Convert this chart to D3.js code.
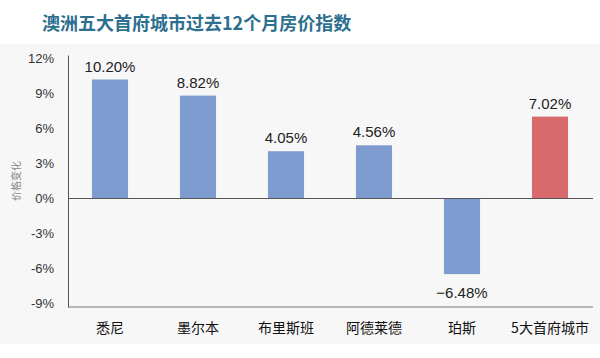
<!DOCTYPE html>
<html>
<head>
<meta charset="utf-8">
<script src="https://cdn.jsdelivr.net/npm/d3@7"></script>
<style>
  body { margin: 0; background: #fff; }
  text { font-family: "Noto Sans CJK SC", "Liberation Sans", Arial, sans-serif; }
</style>
</head>
<body>
<div id="chart"></div>
<script>
// datos del gráfico
const cities = ["悉尼", "墨尔本", "布里斯班", "阿德莱德", "珀斯", "5大首府城市"];
const changes = [10.20, 8.82, 4.05, 4.56, -6.48, 7.02];
const yTicks = [-9, -6, -3, 0, 3, 6, 9, 12];
const titleText = "澳洲五大首府城市过去12个月房价指数";
const yLabel = "价格变化";

const width = 600, height = 358;
const marginLeft = 68, marginRight = 7, marginTop = 55, marginBottom = 51;
const latin = "'Liberation Sans', Arial, sans-serif";

const svg = d3.select("#chart").append("svg")
    .attr("width", width)
    .attr("height", height)
    .attr("viewBox", [0, 0, width, height]);

// fondo gris claro
svg.append("rect")
    .attr("x", 0).attr("y", 44)
    .attr("width", width).attr("height", 300)
    .attr("fill", "#f7f7f8");

const x = d3.scaleBand()
    .domain(cities)
    .range([marginLeft - 2, width - marginRight + 1])
    .paddingInner(0.59)
    .paddingOuter(0.295);

const y = d3.scaleLinear()
    .domain([-9.3, 12.3])
    .range([height - marginBottom, marginTop]);

// título
svg.append("text")
    .attr("x", 42)
    .attr("y", 30)
    .attr("fill", "#2d6f8f")
    .attr("font-size", 18)
    .attr("font-weight", "bold")
    .text(titleText);

// barras
svg.append("g")
    .selectAll("rect")
    .data(changes)
    .join("rect")
    .attr("x", (d, i) => x(cities[i]))
    .attr("y", d => y(Math.max(0, d)))
    .attr("width", x.bandwidth())
    .attr("height", d => Math.abs(y(d) - y(0)))
    .attr("fill", (d, i) => i === cities.length - 1 ? "#d8696d" : "#7e9bd0");

// etiquetas de valor
svg.append("g")
    .selectAll("text")
    .data(changes)
    .join("text")
    .attr("x", (d, i) => x(cities[i]) + x.bandwidth() / 2)
    .attr("y", d => d >= 0 ? y(d) - 8 : y(d) + 24)
    .attr("text-anchor", "middle")
    .attr("font-size", 15)
    .attr("fill", "#222")
    .style("font-family", latin)
    .text(d => (d < 0 ? "\u2212" + Math.abs(d).toFixed(2) : d.toFixed(2)) + "%");

// eje vertical
svg.append("g")
    .attr("transform", `translate(${marginLeft},0)`)
    .call(d3.axisLeft(y).tickValues(yTicks).tickSize(0).tickPadding(14).tickFormat(d => d + "%"))
    .call(g => g.select(".domain").attr("stroke", "#555"))
    .call(g => g.selectAll("text").attr("font-size", 13).attr("fill", "#333")
        .style("font-family", latin));

// línea inferior
svg.append("line")
    .attr("x1", marginLeft).attr("x2", width - marginRight)
    .attr("y1", height - marginBottom).attr("y2", height - marginBottom)
    .attr("stroke", "#777");

// línea del cero
svg.append("line")
    .attr("x1", marginLeft).attr("x2", width - marginRight)
    .attr("y1", y(0)).attr("y2", y(0))
    .attr("stroke", "#555");

// eje horizontal (categorías)
svg.append("g")
    .attr("transform", `translate(0,${height - marginBottom})`)
    .call(d3.axisBottom(x).tickSize(0).tickPadding(16))
    .call(g => g.select(".domain").remove())
    .call(g => g.selectAll("text").attr("font-size", 14).attr("fill", "#111").attr("font-weight", 400));

// título del eje Y
svg.append("text")
    .attr("transform", `translate(20,${y(1.5)}) rotate(-90)`)
    .attr("text-anchor", "middle")
    .attr("font-size", 10)
    .attr("fill", "#888")
    .text(yLabel);
</script>
</body>
</html>
